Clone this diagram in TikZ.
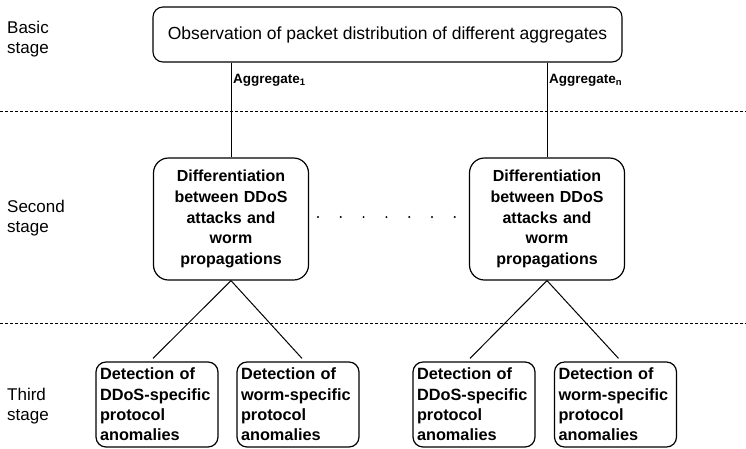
\documentclass[tikz,border=0pt]{standalone}
\usepackage{fontspec}
\setmainfont{Liberation Sans}
\begin{document}
\begin{tikzpicture}[x=1pt,y=-1pt,
  topbox/.style={draw, line width=1.1pt, rounded corners=10pt, minimum width=469pt, minimum height=55pt, inner sep=0pt, font=\fontsize{17.5}{20}\selectfont},
  diffbox/.style={draw, line width=1.2pt, rounded corners=15pt, minimum width=155pt, minimum height=122pt, text width=145pt, align=center, inner xsep=5pt, inner ysep=0pt, font=\fontsize{16}{20.8}\selectfont\bfseries},
  detbox/.style={draw, line width=1.2pt, rounded corners=10pt, minimum width=122pt, minimum height=85pt, text width=114pt, align=left, inner xsep=4pt, inner ysep=0pt, font=\fontsize{16.3}{20.3}\selectfont\bfseries},
  stagelbl/.style={anchor=north west, inner sep=0pt, align=left, font=\fontsize{17}{20}\selectfont},
  agglbl/.style={anchor=base west, inner sep=0pt, font=\fontsize{13.5}{15}\selectfont\bfseries},
  conn/.style={line width=1pt},
  sep/.style={line width=0.7pt, dash pattern=on 3pt off 2pt}]
\useasboundingbox (0,0) rectangle (746,448);

% separators
\coordinate (s1l) at (0,111);
\coordinate (s1r) at (746,111);
\coordinate (s2l) at (0,323);
\coordinate (s2r) at (746,323);
\draw[sep] (s1l) -- (s1r);
\draw[sep] (s2l) -- (s2r);

% stage labels
\node[stagelbl] (st1) at (7,21) {Basic\\stage};
\node[stagelbl] (st2) at (7,200) {Second\\stage};
\node[stagelbl] (st3) at (7,388) {Third\\stage};

% top box
\node[topbox] (top) at (387.5,34.5) {Observation of packet distribution of different aggregates};

% second stage boxes
\node[diffbox] (d1) at (231,219) {Differentiation\\between DDoS\\attacks and\\worm\\propagations};
\node[diffbox] (d2) at (547,219) {Differentiation\\between DDoS\\attacks and\\worm\\propagations};

% third stage boxes
\node[detbox] (e1) at (157,404.5) {Detection of\\DDoS-specific\\protocol\\anomalies};
\node[detbox] (e2) at (298,404.5) {Detection of\\worm-specific\\protocol\\anomalies};
\node[detbox] (e3) at (474,404.5) {Detection of\\DDoS-specific\\protocol\\anomalies};
\node[detbox] (e4) at (615.5,404.5) {Detection of\\worm-specific\\protocol\\anomalies};

% connectors
\draw[conn] (d1.north |- top.south) -- (d1.north);
\draw[conn] (d2.north |- top.south) -- (d2.north);
\draw[conn] (d1.south) -- ([xshift=-4pt,yshift=3pt]e1.north);
\draw[conn] (d1.south) -- ([xshift=4pt,yshift=3pt]e2.north);
\draw[conn] (d2.south) -- ([xshift=-4pt,yshift=3pt]e3.north);
\draw[conn] (d2.south) -- ([xshift=3pt,yshift=3pt]e4.north);

% aggregate labels
\node[agglbl] (a1) at (233,83) {Aggregate\textsubscript{1}};
\node[agglbl] (an) at (549,83) {Aggregate\textsubscript{n}};

% dots
\foreach \i in {0,...,6} {
  \fill (318+22.8*\i,217) circle (1.1pt);
}
\end{tikzpicture}
\end{document}
